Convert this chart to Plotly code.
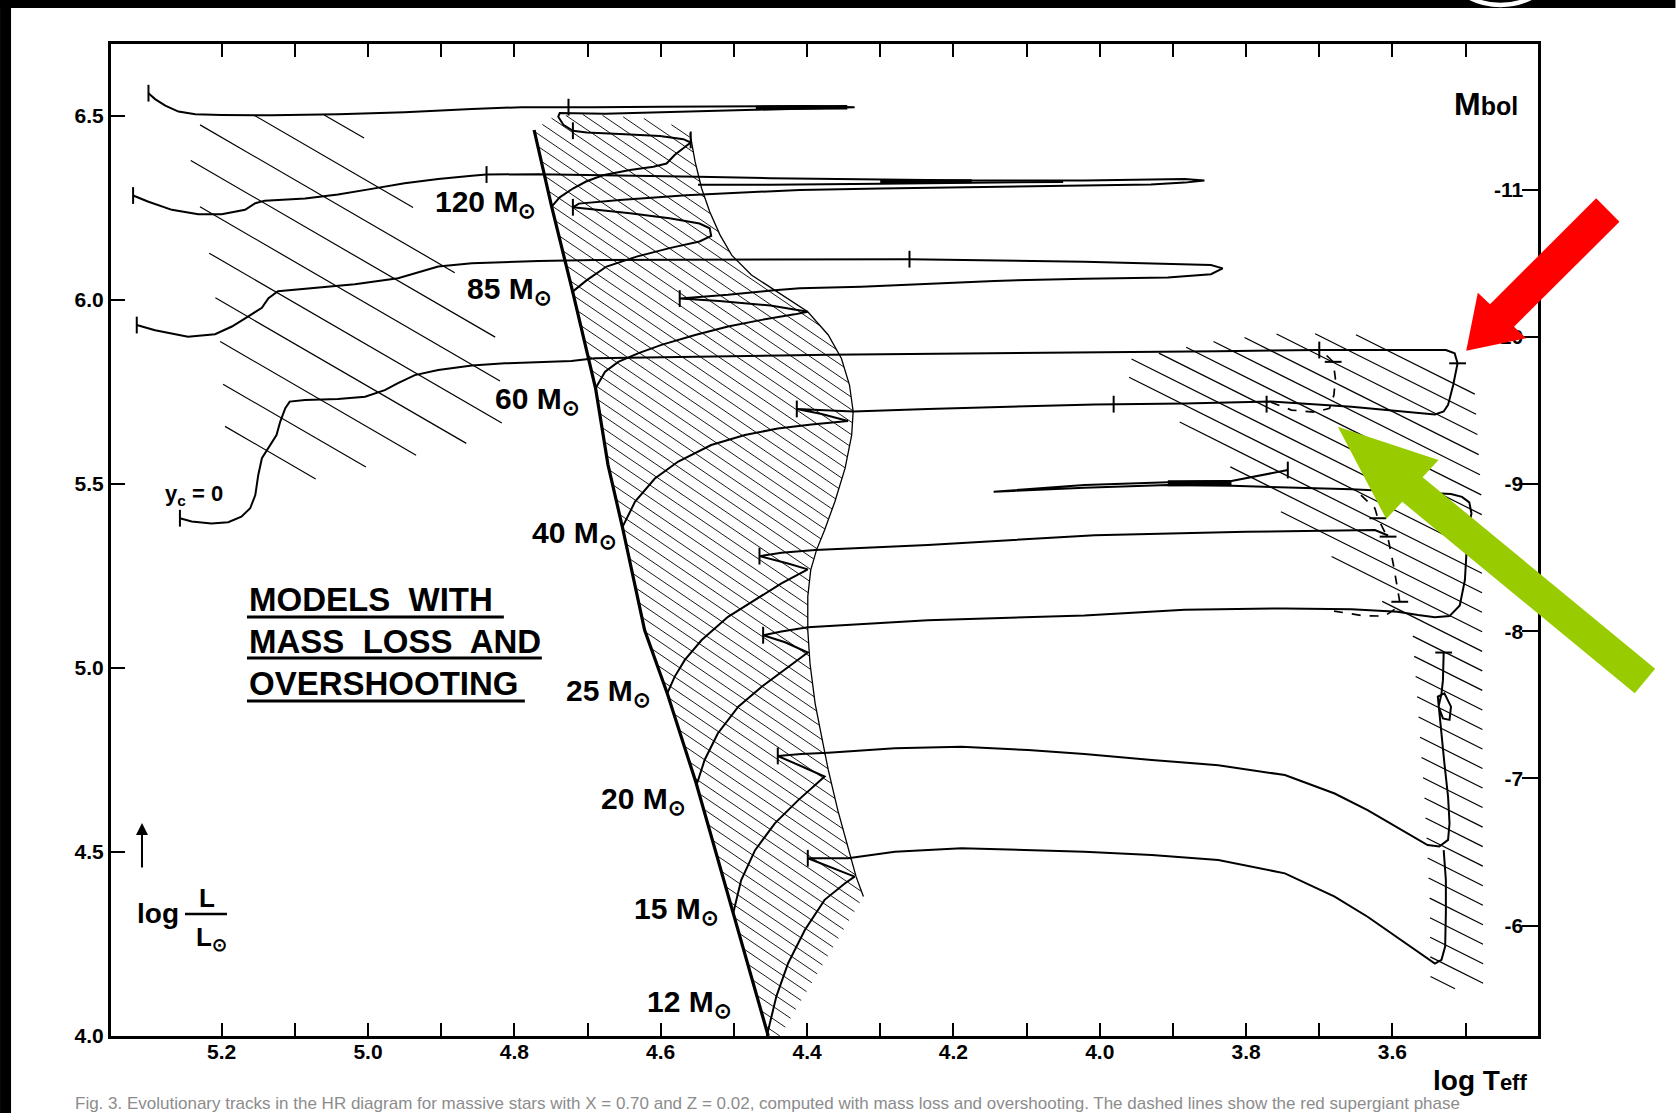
import plotly.graph_objects as go

FONT = "Liberation Sans, Arial, Helvetica, sans-serif"

# ---------------- axis geometry ----------------
XR = (5.3512, 3.4011)          # log Teff, reversed
YR = (4.0, 6.6957)             # log L/Lsun
W, H = 1676, 1113
ML, MR, MT, MB = 111, 137.5, 44, 77
PW, PH = W - ML - MR, H - MT - MB

X_TICKS = [5.2, 5.1, 5.0, 4.9, 4.8, 4.7, 4.6, 4.5, 4.4, 4.3, 4.2, 4.1, 4.0, 3.9, 3.8, 3.7, 3.6, 3.5]
X_LABELED = [5.2, 5.0, 4.8, 4.6, 4.4, 4.2, 4.0, 3.8, 3.6]
Y_TICKS = [4.0, 4.5, 5.0, 5.5, 6.0, 6.5]
MBOL_TICKS = [-6, -7, -8, -9, -10, -11]

# ---------------- tracks (log Teff, log L) ----------------
ZAMS_T = [4.773, 4.749, 4.720, 4.689, 4.672, 4.652, 4.622, 4.591, 4.552, 4.502, 4.453]
ZAMS_L = [6.462, 6.254, 6.020, 5.760, 5.552, 5.380, 5.103, 4.931, 4.690, 4.340, 4.000]

# red edge of the main-sequence band
EDGE_T = [4.560, 4.553, 4.544, 4.533, 4.519, 4.503, 4.476, 4.435, 4.399, 4.371, 4.353, 4.342,
          4.337, 4.339, 4.348, 4.362, 4.376, 4.387, 4.395, 4.399, 4.399, 4.396, 4.389, 4.380,
          4.371, 4.358, 4.344, 4.333, 4.323]
EDGE_L = [6.453, 6.376, 6.303, 6.240, 6.177, 6.122, 6.068, 6.014, 5.968, 5.905, 5.841, 5.769,
          5.697, 5.633, 5.543, 5.452, 5.375, 5.321, 5.266, 5.194, 5.103, 5.013, 4.904, 4.813,
          4.723, 4.614, 4.515, 4.433, 4.379]

T120 = [4.749, 4.738, 4.720, 4.702, 4.679, 4.642, 4.610, 4.592, 4.581, 4.567, 4.559, 4.569,
        4.601, 4.656, 4.701, 4.720, 4.733, 4.740, 4.738, 4.676, 4.599, 4.494, 4.400, 4.335,
        4.400, 4.494, 4.599, 4.690, 4.726, 4.790, 4.858, 4.950, 5.041, 5.132, 5.200, 5.236,
        5.259, 5.277, 5.291, 5.300]
L120 = [6.254, 6.279, 6.303, 6.322, 6.339, 6.353, 6.362, 6.371, 6.394, 6.415, 6.428, 6.437,
        6.446, 6.451, 6.455, 6.460, 6.476, 6.498, 6.508, 6.506, 6.510, 6.516, 6.520, 6.524,
        6.527, 6.527, 6.525, 6.524, 6.524, 6.524, 6.519, 6.510, 6.505, 6.502, 6.503, 6.505,
        6.512, 6.528, 6.546, 6.562]

T85 = [4.722, 4.701, 4.674, 4.633, 4.588, 4.547, 4.531, 4.533, 4.547, 4.588, 4.642, 4.692,
       4.720, 4.712, 4.656, 4.565, 4.474, 4.410, 4.300, 4.150, 4.021, 3.930, 3.884, 3.857,
       3.884, 3.952, 4.021, 4.175, 4.303, 4.450, 4.549, 4.690, 4.767, 4.838, 4.858, 4.904,
       4.950, 4.995, 5.041, 5.086, 5.141, 5.154, 5.168, 5.200, 5.232, 5.268, 5.300, 5.321]
L85 = [6.020, 6.054, 6.091, 6.118, 6.141, 6.159, 6.174, 6.195, 6.208, 6.222, 6.236, 6.245,
       6.252, 6.262, 6.272, 6.285, 6.294, 6.299, 6.303, 6.307, 6.311, 6.314, 6.319, 6.325,
       6.329, 6.327, 6.325, 6.325, 6.327, 6.331, 6.335, 6.340, 6.342, 6.341, 6.338, 6.329,
       6.317, 6.302, 6.287, 6.276, 6.270, 6.263, 6.245, 6.233, 6.233, 6.245, 6.267, 6.284]
T85_MID = [4.549, 4.450, 4.300, 4.150, 4.050]
L85_MID = [6.313, 6.313, 6.316, 6.319, 6.321]

T60 = [4.689, 4.676, 4.658, 4.631, 4.599, 4.553, 4.508, 4.462, 4.417, 4.399, 4.450, 4.520,
       4.574, 4.508, 4.449, 4.410, 4.326, 4.235, 4.144, 4.021, 3.907, 3.848, 3.832, 3.848,
       3.884, 4.021, 4.260, 4.690, 4.767, 4.858, 4.904, 4.931, 4.959, 5.018, 5.086, 5.123,
       5.136, 5.145, 5.164, 5.186, 5.209, 5.246, 5.291, 5.316]
L60 = [5.760, 5.805, 5.832, 5.855, 5.878, 5.905, 5.928, 5.946, 5.961, 5.968, 5.985, 5.997,
       6.004, 6.014, 6.026, 6.032, 6.036, 6.045, 6.052, 6.058, 6.061, 6.070, 6.086, 6.095,
       6.097, 6.104, 6.111, 6.109, 6.106, 6.100, 6.091, 6.075, 6.059, 6.043, 6.032, 6.024,
       6.005, 5.979, 5.955, 5.928, 5.907, 5.900, 5.918, 5.932]

T40 = [4.653, 4.635, 4.608, 4.576, 4.531, 4.485, 4.440, 4.394, 4.344, 4.380, 4.414, 4.371,
       4.337, 4.235, 4.007, 3.884, 3.766, 3.656, 3.588, 3.542, 3.530, 3.524, 3.517, 3.511,
       3.515, 3.527, 3.611, 3.702, 3.838, 4.021, 4.371, 4.690, 4.722, 4.813, 4.858, 4.904,
       4.936, 4.959, 4.977, 5.004, 5.041, 5.086, 5.107, 5.113, 5.120, 5.125, 5.136, 5.145,
       5.150, 5.154, 5.161, 5.173, 5.191, 5.214, 5.241, 5.257]
L40 = [5.380, 5.452, 5.515, 5.561, 5.606, 5.633, 5.651, 5.662, 5.671, 5.690, 5.704, 5.700,
       5.697, 5.704, 5.716, 5.719, 5.724, 5.710, 5.697, 5.689, 5.697, 5.715, 5.769, 5.828,
       5.855, 5.864, 5.864, 5.864, 5.861, 5.858, 5.851, 5.842, 5.834, 5.828, 5.822, 5.810,
       5.796, 5.774, 5.755, 5.737, 5.731, 5.728, 5.724, 5.706, 5.669, 5.633, 5.597, 5.570,
       5.524, 5.470, 5.434, 5.411, 5.396, 5.393, 5.398, 5.407]
T40_DASH = [3.766, 3.738, 3.706, 3.686, 3.680, 3.678, 3.681, 3.693, 3.702]
L40_DASH = [5.722, 5.701, 5.695, 5.706, 5.742, 5.787, 5.832, 5.855, 5.864]

T25 = [4.591, 4.581, 4.567, 4.544, 4.508, 4.471, 4.435, 4.399, 4.426, 4.465, 4.435, 4.389,
       4.235, 4.007, 3.800, 3.624, 3.606]
L25 = [4.931, 4.976, 5.022, 5.076, 5.139, 5.185, 5.230, 5.268, 5.284, 5.304, 5.313, 5.321,
       5.334, 5.361, 5.370, 5.375, 5.360]
T25_DASH = [3.643, 3.624, 3.620, 3.606, 3.599, 3.593, 3.590, 3.595, 3.611, 3.640, 3.690]
L25_DASH = [5.470, 5.434, 5.407, 5.352, 5.284, 5.212, 5.180, 5.162, 5.141, 5.142, 5.158]

T20 = [4.551, 4.540, 4.522, 4.494, 4.462, 4.430, 4.399, 4.430, 4.460, 4.435, 4.399, 4.235,
       4.021, 3.884, 3.747, 3.656, 3.593, 3.565, 3.542, 3.522, 3.508, 3.501, 3.499, 3.497,
       3.492, 3.495, 3.505, 3.520, 3.656, 3.820, 3.907, 4.021, 4.145, 4.021, 3.907, 3.820,
       3.743]
L20 = [4.682, 4.750, 4.822, 4.895, 4.949, 4.995, 5.042, 5.070, 5.089, 5.099, 5.111, 5.130,
       5.143, 5.158, 5.162, 5.160, 5.153, 5.144, 5.138, 5.141, 5.170, 5.239, 5.321, 5.375,
       5.420, 5.450, 5.465, 5.473, 5.486, 5.495, 5.497, 5.490, 5.479, 5.497, 5.505, 5.508,
       5.538]

T15 = [4.501, 4.490, 4.471, 4.444, 4.412, 4.376, 4.410, 4.440, 4.408, 4.371, 4.280, 4.189,
       4.098, 4.021, 3.929, 3.838, 3.747, 3.679, 3.634, 3.588, 3.552, 3.536, 3.524, 3.522,
       3.524, 3.529, 3.533, 3.536, 3.538, 3.529, 3.520, 3.522, 3.531, 3.537, 3.533, 3.531,
       3.530]
L15 = [4.333, 4.424, 4.505, 4.578, 4.641, 4.705, 4.735, 4.761, 4.766, 4.770, 4.782, 4.786,
       4.777, 4.766, 4.750, 4.736, 4.709, 4.659, 4.614, 4.560, 4.519, 4.515, 4.533, 4.578,
       4.650, 4.741, 4.831, 4.886, 4.922, 4.931, 4.895, 4.859, 4.863, 4.895, 4.930, 4.967,
       5.042]

T12 = [4.455, 4.442, 4.426, 4.403, 4.376, 4.348, 4.335, 4.370, 4.399, 4.344, 4.280, 4.189,
       4.098, 4.021, 3.929, 3.838, 3.747, 3.679, 3.634, 3.588, 3.556, 3.542, 3.533, 3.528,
       3.527, 3.527, 3.530]
L12 = [4.000, 4.107, 4.197, 4.288, 4.370, 4.415, 4.433, 4.460, 4.483, 4.483, 4.501, 4.510,
       4.505, 4.501, 4.492, 4.478, 4.442, 4.379, 4.324, 4.261, 4.216, 4.197, 4.207, 4.243,
       4.333, 4.424, 4.505]

# slow phases drawn heavier
THICK_T = [[4.470, 4.345], [4.300, 4.175], [3.907, 3.820]]
THICK_L = [[6.522, 6.524], [6.322, 6.323], [5.502, 5.503]]
THICK_W = [4.5, 4.0, 6.0]

# phase marks
TICK_V_T = [4.726, 4.559, 4.838, 4.260, 3.981, 3.772, 3.743, 5.300, 5.321, 5.316, 5.257,
            4.720, 4.720, 4.574, 4.414, 4.465, 4.460, 4.440, 4.399, 3.700]
TICK_V_L = [6.524, 6.435, 6.341, 6.111, 5.717, 5.717, 5.538, 6.562, 6.284, 5.932, 5.407,
            6.460, 6.252, 6.004, 5.704, 5.304, 5.089, 4.761, 4.483, 5.864]
TICK_H_T = [3.511, 3.606, 3.590, 3.620, 3.530, 3.681]
TICK_H_L = [5.828, 5.357, 5.180, 5.407, 5.042, 5.832]

# shaded zones (outlines used for the hatching)
WR_T = [5.250, 5.200, 5.041, 5.015, 4.945, 4.881, 4.822, 4.817, 4.858, 5.090, 5.195, 5.200, 5.213]
WR_L = [6.457, 6.503, 6.503, 6.467, 6.272, 6.073, 5.886, 5.666, 5.614, 5.505, 5.641, 5.851, 6.087]
RSG_T = [3.982, 3.836, 3.747, 3.634, 3.488, 3.478, 3.476, 3.548, 3.549, 3.556, 3.566, 3.573]
RSG_L = [5.829, 5.891, 5.910, 5.905, 5.761, 5.451, 4.092, 4.160, 4.370, 4.641, 4.913, 5.109]
MS_TOP_T = [4.600, 4.700, 4.745]
MS_TOP_L = [6.490, 6.505, 6.500]

MASS_LABELS = ["120", "85", "60", "40", "25", "20", "15", "12"]
LABEL_T = [4.839, 4.806, 4.769, 4.718, 4.672, 4.624, 4.579, 4.560]
LABEL_L = [6.263, 6.027, 5.728, 5.364, 4.933, 4.641, 4.342, 4.089]


# ---------------- helpers ----------------
def to_px(t, l):
    u = ML + (XR[0] - t) / (XR[0] - XR[1]) * PW
    v = MT + PH - (l - YR[0]) / (YR[1] - YR[0]) * PH
    return u, v


def from_px(u, v):
    t = XR[0] - (u - ML) / PW * (XR[0] - XR[1])
    l = YR[0] + (MT + PH - v) / PH * (YR[1] - YR[0])
    return t, l


def paper(u, v):
    return (u - ML) / PW, (MT + PH - v) / PH


def hatch(poly_t, poly_l, slope, spacing, phase=0.0):
    """Parallel hatch segments (slope in screen pixels) clipped to a polygon."""
    pts = [to_px(t, l) for t, l in zip(poly_t, poly_l)]
    n = len(pts)
    cs = [v - slope * u for u, v in pts]
    xs, ys = [], []
    c = min(cs) + phase
    while c < max(cs):
        cuts = []
        for i in range(n):
            u1, v1 = pts[i]
            u2, v2 = pts[(i + 1) % n]
            f1 = v1 - slope * u1 - c
            f2 = v2 - slope * u2 - c
            if (f1 > 0) != (f2 > 0):
                k = f1 / (f1 - f2)
                cuts.append(u1 + k * (u2 - u1))
        cuts.sort()
        for a, b in zip(cuts[0::2], cuts[1::2]):
            for u in (a, b):
                t, l = from_px(u, slope * u + c)
                xs.append(t)
                ys.append(l)
            xs.append(None)
            ys.append(None)
        c += spacing
    return xs, ys


fig = go.Figure()


def add_line(x, y, width=2.0, dash=None):
    fig.add_trace(go.Scatter(x=x, y=y, mode="lines",
                             line=dict(color="black", width=width, dash=dash),
                             hoverinfo="skip", showlegend=False))


# hatching
ms_poly_t = ZAMS_T + [4.437] + EDGE_T[::-1] + MS_TOP_T
ms_poly_l = ZAMS_L + [4.000] + EDGE_L[::-1] + MS_TOP_L
hx, hy = hatch(ms_poly_t, ms_poly_l, 0.68, 12.5, 4.0)
add_line(hx, hy, 0.9)
hx, hy = hatch(WR_T, WR_L, 0.58, 41.0, 8.0)
add_line(hx, hy, 1.2)
hx, hy = hatch(RSG_T, RSG_L, 0.5, 19.5, 6.0)
add_line(hx, hy, 1.2)

# band edge and ZAMS
add_line(EDGE_T, EDGE_L, 1.3)
add_line(ZAMS_T, ZAMS_L, 3.2)

# evolutionary tracks
for T, L in [(T120, L120), (T85, L85), (T85_MID, L85_MID), (T60, L60), (T40, L40),
             (T25, L25), (T20, L20), (T15, L15), (T12, L12)]:
    add_line(T, L, 2.0)
add_line(T40_DASH, L40_DASH, 1.7, "dash")
add_line(T25_DASH, L25_DASH, 1.7, "dash")
for T, L, w in zip(THICK_T, THICK_L, THICK_W):
    add_line(T, L, w)

fig.add_trace(go.Scatter(x=TICK_V_T, y=TICK_V_L, mode="markers", hoverinfo="skip",
                         marker=dict(symbol="line-ns", size=12, line=dict(width=2, color="black")),
                         showlegend=False))
fig.add_trace(go.Scatter(x=TICK_H_T, y=TICK_H_L, mode="markers", hoverinfo="skip",
                         marker=dict(symbol="line-ew", size=12, line=dict(width=2, color="black")),
                         showlegend=False))

# bolometric magnitude scale on the right
fig.add_trace(go.Scatter(x=[None], y=[None], yaxis="y2", showlegend=False, hoverinfo="skip"))

annotations = []
for name, t, l in zip(MASS_LABELS, LABEL_T, LABEL_L):
    annotations.append(dict(x=t, y=l, xref="x", yref="y", showarrow=False,
                            text=f"{name} M<sub>⊙</sub>", xanchor="center", yanchor="middle",
                            font=dict(family=FONT, size=30, color="black", weight="bold")))

# title block
for txt, v in [("MODELS  WITH", 599), ("MASS  LOSS  AND", 641), ("OVERSHOOTING", 683)]:
    px_, py_ = paper(247, v)
    annotations.append(dict(x=px_, y=py_, xref="paper", yref="paper", showarrow=False,
                            text=txt, xanchor="left", yanchor="middle",
                            font=dict(family=FONT, size=33, color="black", weight="bold")))


def ann_px(u, v, text, size, xanchor="center", yanchor="middle", color="black", weight="bold"):
    px_, py_ = paper(u, v)
    annotations.append(dict(x=px_, y=py_, xref="paper", yref="paper", showarrow=False,
                            text=text, xanchor=xanchor, yanchor=yanchor,
                            font=dict(family=FONT, size=size, color=color, weight=weight)))


ann_px(163, 495, "y<sub>c</sub> = 0", 22, xanchor="left")
ann_px(1486, 104, "M<span style='font-size:25px'>bol</span>", 32)
ann_px(1480, 1080, "log T<span style='font-size:22px'>eff</span>", 28)
ann_px(158, 913, "log", 28)
ann_px(207, 898, "L", 26)
ann_px(212, 938, "L<sub>⊙</sub>", 26)
ann_px(73, 1092, "Fig. 3. Evolutionary tracks in the HR diagram for massive stars with X = 0.70 and Z = 0.02, "
       "computed with mass loss and overshooting. The dashed lines show the red supergiant phase",
       17, xanchor="left", yanchor="top", color="#8c8c8c", weight="normal")

# upward arrow beside the luminosity label
ax0, ay0 = paper(142, 823)
annotations.append(dict(x=ax0, y=ay0, xref="paper", yref="paper", ax=0, ay=46, text="",
                        showarrow=True, arrowhead=2, arrowsize=1.2, arrowwidth=2, arrowcolor="black"))

shapes = []


def line_px(u0, v0, u1, v1, width, color="black"):
    a = paper(u0, v0)
    b = paper(u1, v1)
    shapes.append(dict(type="line", xref="paper", yref="paper", x0=a[0], y0=a[1], x1=b[0], y1=b[1],
                       line=dict(color=color, width=width)))


# underlines of the title block and fraction bar
line_px(247, 617, 504, 617, 3)
line_px(247, 658, 542, 658, 3)
line_px(247, 701, 525, 701, 3)
line_px(185, 914, 227, 914, 2.5)


def path_px(points):
    parts = []
    for i, (u, v) in enumerate(points):
        x, y = paper(u, v)
        parts.append(("M" if i == 0 else "L") + f"{x:.5f},{y:.5f}")
    return " ".join(parts) + " Z"


# dark page borders
shapes.append(dict(type="path", xref="paper", yref="paper", layer="above",
                   path=path_px([(0, 0), (W, 0), (W, 8), (0, 8)]),
                   fillcolor="black", line=dict(width=0)))
shapes.append(dict(type="path", xref="paper", yref="paper", layer="above",
                   path=path_px([(0, 0), (11, 0), (11, H), (0, H)]),
                   fillcolor="black", line=dict(width=0)))
c0 = paper(1501 - 67, -62 - 67)
c1 = paper(1501 + 67, -62 + 67)
shapes.append(dict(type="circle", xref="paper", yref="paper", layer="above",
                   x0=c0[0], y0=c1[1], x1=c1[0], y1=c0[1],
                   line=dict(color="white", width=4.5)))

# highlight arrows
shapes.append(dict(type="path", xref="paper", yref="paper", layer="above",
                   path=path_px([(1596.7, 198.3), (1490.5, 304.2), (1478.3, 292.7), (1466.7, 350.7),
                                 (1526.7, 338.3), (1514.5, 326.8), (1620.0, 221.7)]),
                   fillcolor="#ff0000", line=dict(width=0)))
shapes.append(dict(type="path", xref="paper", yref="paper", layer="above",
                   path=path_px([(1655.7, 668.7), (1423.1, 477.2), (1439.0, 460.0), (1338.3, 426.7),
                                 (1386.7, 519.0), (1402.7, 501.8), (1635.3, 693.3)]),
                   fillcolor="#99cc00", line=dict(width=0)))

tick_font = dict(family=FONT, size=21, color="black", weight="bold")
fig.update_layout(
    width=W, height=H,
    margin=dict(l=ML, r=MR, t=MT, b=MB),
    plot_bgcolor="white", paper_bgcolor="white",
    showlegend=False,
    xaxis=dict(range=list(XR), tickvals=X_LABELED,
               ticktext=[f"{v:.1f}" for v in X_LABELED],
               ticks="inside", ticklen=13, tickwidth=2, tickcolor="black",
               minor=dict(tickvals=X_TICKS, ticks="inside", ticklen=13, tickwidth=2,
                          tickcolor="black", showgrid=False),
               showline=True, linewidth=3, linecolor="black", mirror="ticks",
               showgrid=False, zeroline=False, tickfont=tick_font, ticklabelstandoff=-5),
    yaxis=dict(range=list(YR), tickvals=Y_TICKS, ticktext=[f"{v:.1f}" for v in Y_TICKS],
               ticks="inside", ticklen=14, tickwidth=2, tickcolor="black",
               showline=True, linewidth=3, linecolor="black", mirror=True,
               showgrid=False, zeroline=False, tickfont=tick_font, ticklabelstandoff=0),
    yaxis2=dict(overlaying="y", side="right",
                range=[4.75 - 2.5 * YR[0], 4.75 - 2.5 * YR[1]],
                tickvals=MBOL_TICKS, ticktext=[f"-{abs(v)}" for v in MBOL_TICKS],
                ticks="inside", ticklen=16, tickwidth=2, tickcolor="black",
                ticklabelposition="inside", showline=False, showgrid=False, zeroline=False,
                tickfont=tick_font),
    annotations=annotations,
    shapes=shapes,
)

fig.write_html("out.html")
